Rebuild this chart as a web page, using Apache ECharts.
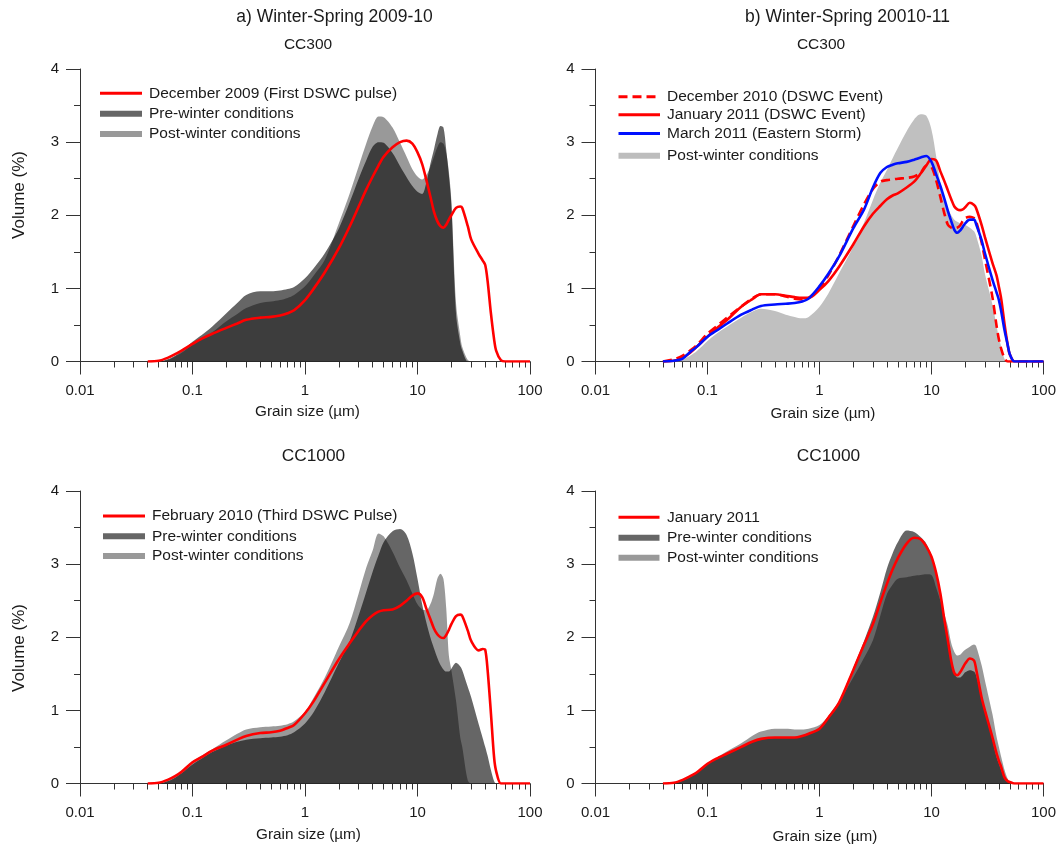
<!DOCTYPE html>
<html>
<head>
<meta charset="utf-8">
<title>Grain size distributions CC300 / CC1000</title>
<script src="https://cdn.jsdelivr.net/npm/echarts@6/dist/echarts.min.js"></script>
<style>
  html, body { margin: 0; padding: 0; background: #fff; }
  #main { width: 1059px; height: 848px; }
</style>
</head>
<body>
<div id="main"></div>
<script>
// grain size classes (um), shared by every curve
const grainSize = [
  0.04, 0.05, 0.06, 0.07, 0.08, 0.1, 0.12, 0.15, 0.2, 0.25,
  0.3, 0.4, 0.5, 0.6, 0.7, 0.8, 1, 1.2, 1.5, 2,
  2.5, 3, 3.5, 4, 4.5, 5, 6, 7, 8, 9,
  10, 11, 12, 13, 14, 15, 16, 17, 18, 19,
  20, 22, 24, 25, 28, 30, 35, 38, 40, 42,
  45, 48, 50, 55, 60, 70, 80, 100
];

// axis ticks
const xTickValues = [0.01, 0.1, 1, 10, 100];
const xTickLabels = ['0.01', '0.1', '1', '10', '100'];
const xMinorTicks = [
  0.02, 0.03, 0.04, 0.05, 0.06, 0.07, 0.08, 0.09,
  0.2, 0.3, 0.4, 0.5, 0.6, 0.7, 0.8, 0.9,
  2, 3, 4, 5, 6, 7, 8, 9,
  20, 30, 40, 50, 60, 70, 80, 90
];

// a) CC300, winter-spring 2009-10 (volume %)
const dec2009 = [
  0, 0.01, 0.05, 0.1, 0.15, 0.24, 0.31, 0.38, 0.46, 0.52,
  0.57, 0.6, 0.61, 0.63, 0.66, 0.7, 0.84, 1.0, 1.22, 1.55,
  1.85, 2.12, 2.35, 2.53, 2.68, 2.8, 2.93, 3.0, 3.02, 2.98,
  2.86, 2.7, 2.48, 2.26, 2.05, 1.92, 1.85, 1.83, 1.87, 1.94,
  2.0, 2.1, 2.12, 2.1, 1.85, 1.67, 1.47, 1.38, 1.32, 1.1,
  0.65, 0.3, 0.15, 0.02, 0, 0, 0, 0
];
const preA = [
  0, 0, 0.03, 0.08, 0.14, 0.27, 0.36, 0.48, 0.66, 0.8,
  0.91, 0.96, 0.96, 0.97, 0.99, 1.02, 1.14, 1.28, 1.48, 1.82,
  2.18, 2.5, 2.75, 2.94, 3.0, 2.99, 2.85, 2.67, 2.52, 2.4,
  2.32, 2.29, 2.45, 2.7, 2.9, 3.1, 3.22, 3.2, 2.9, 2.55,
  2.15, 0.65, 0.25, 0.15, 0, 0, 0, 0, 0, 0,
  0, 0, 0, 0, 0, 0, 0, 0
];
const postA = [
  0, 0, 0.02, 0.07, 0.12, 0.23, 0.31, 0.4, 0.55, 0.65,
  0.73, 0.8, 0.82, 0.84, 0.87, 0.91, 1.03, 1.18, 1.39, 1.89,
  2.3, 2.67, 2.98, 3.22, 3.35, 3.34, 3.2, 2.99, 2.8, 2.63,
  2.53, 2.49, 2.55, 2.66, 2.8, 2.93, 3.0, 2.98, 2.85, 2.6,
  2.2, 0.8, 0.35, 0.2, 0.02, 0, 0, 0, 0, 0,
  0, 0, 0, 0, 0, 0, 0, 0
];

// b) CC300, winter-spring 2010-11
const dec2010 = [
  0, 0.03, 0.08, 0.15, 0.22, 0.38, 0.48, 0.6, 0.75, 0.86,
  0.92, 0.92, 0.89, 0.86, 0.85, 0.87, 1.0, 1.18, 1.45, 1.85,
  2.15, 2.36, 2.46, 2.48, 2.49, 2.5, 2.51, 2.53, 2.58, 2.68,
  2.66, 2.48, 2.25, 2.03, 1.87, 1.83, 1.82, 1.83, 1.86, 1.92,
  1.96, 1.98, 1.96, 1.92, 1.63, 1.4, 0.88, 0.5, 0.3, 0.17,
  0.04, 0, 0, 0, 0, 0, 0, 0
];
const jan2011 = [
  0, 0.01, 0.05, 0.12, 0.2, 0.34, 0.45, 0.57, 0.75, 0.85,
  0.92, 0.92, 0.9, 0.88, 0.87, 0.87, 0.98, 1.1, 1.3, 1.6,
  1.85, 2.02, 2.13, 2.22, 2.27, 2.3, 2.38, 2.46, 2.57, 2.68,
  2.77, 2.75, 2.6, 2.47, 2.34, 2.22, 2.12, 2.08, 2.07, 2.08,
  2.11, 2.17, 2.14, 2.1, 1.87, 1.7, 1.35, 1.18, 1.02, 0.85,
  0.5, 0.22, 0.1, 0, 0, 0, 0, 0
];
const mar2011 = [
  0, 0.01, 0.04, 0.13, 0.2, 0.34, 0.42, 0.52, 0.64, 0.71,
  0.76, 0.78, 0.79, 0.8, 0.82, 0.86, 1.03, 1.2, 1.44, 1.82,
  2.08, 2.38, 2.58, 2.66, 2.69, 2.71, 2.73, 2.76, 2.79, 2.81,
  2.73, 2.56, 2.4, 2.23, 2.06, 1.92, 1.8, 1.76, 1.79, 1.84,
  1.89, 1.94, 1.94, 1.88, 1.66, 1.48, 1.12, 0.95, 0.84, 0.68,
  0.42, 0.22, 0.1, 0, 0, 0, 0, 0
];
const postB = [
  0, 0, 0.03, 0.08, 0.14, 0.28, 0.38, 0.48, 0.6, 0.68,
  0.72, 0.69, 0.64, 0.61, 0.59, 0.61, 0.75, 0.93, 1.21, 1.57,
  1.9, 2.21, 2.45, 2.62, 2.78, 2.92, 3.15, 3.31, 3.38, 3.36,
  3.17, 2.81, 2.44, 2.25, 2.1, 2.0, 1.94, 1.91, 1.89, 1.88,
  1.87, 1.83, 1.78, 1.72, 1.45, 1.2, 0.78, 0.5, 0.32, 0.2,
  0.03, 0, 0, 0, 0, 0, 0, 0
];

// c) CC1000, winter-spring 2009-10
const feb2010 = [
  0, 0.01, 0.05, 0.1, 0.16, 0.29, 0.36, 0.45, 0.53, 0.6,
  0.65, 0.69, 0.7, 0.72, 0.76, 0.8, 0.96, 1.13, 1.38, 1.7,
  1.92, 2.09, 2.22, 2.3, 2.35, 2.37, 2.38, 2.43, 2.5, 2.57,
  2.6, 2.55, 2.39, 2.25, 2.12, 2.04, 2.0, 1.99, 2.03, 2.1,
  2.18, 2.29, 2.31, 2.29, 2.09, 1.95, 1.82, 1.84, 1.83, 1.55,
  0.95, 0.35, 0.17, 0, 0, 0, 0, 0
];
const preC = [
  0, 0, 0.03, 0.08, 0.14, 0.26, 0.34, 0.43, 0.52, 0.57,
  0.6, 0.62, 0.63, 0.64, 0.66, 0.7, 0.82, 0.98, 1.25, 1.65,
  1.95, 2.3, 2.62, 2.9, 3.12, 3.3, 3.45, 3.48, 3.4, 3.15,
  2.8, 2.45, 2.2, 2.0, 1.85, 1.72, 1.62, 1.56, 1.53, 1.53,
  1.57, 1.65, 1.6, 1.55, 1.32, 1.18, 0.81, 0.62, 0.5, 0.38,
  0.18, 0.03, 0, 0, 0, 0, 0, 0
];
const postC = [
  0, 0, 0.04, 0.1, 0.16, 0.3, 0.38, 0.47, 0.59, 0.68,
  0.74, 0.77, 0.78, 0.79, 0.81, 0.85, 0.98, 1.18, 1.45, 1.87,
  2.2, 2.6, 2.95, 3.19, 3.42, 3.38, 3.17, 2.95, 2.78, 2.6,
  2.45, 2.38, 2.37, 2.45, 2.6, 2.8, 2.87, 2.8, 2.4, 1.75,
  1.55, 1.13, 0.63, 0.5, 0.04, 0, 0, 0, 0, 0,
  0, 0, 0, 0, 0, 0, 0, 0
];

// d) CC1000, winter-spring 2010-11
const jan2011Deep = [
  0, 0.01, 0.05, 0.1, 0.15, 0.27, 0.34, 0.41, 0.5, 0.57,
  0.61, 0.63, 0.63, 0.63, 0.65, 0.68, 0.75, 0.9, 1.11, 1.55,
  1.9, 2.18, 2.48, 2.73, 2.93, 3.08, 3.28, 3.36, 3.34, 3.24,
  3.1, 2.88, 2.6, 2.25, 1.96, 1.68, 1.51, 1.48, 1.52, 1.58,
  1.64, 1.71, 1.68, 1.57, 1.18, 1.0, 0.63, 0.42, 0.31, 0.22,
  0.08, 0.03, 0.02, 0, 0, 0, 0, 0
];
const preD = [
  0, 0, 0.04, 0.09, 0.15, 0.27, 0.34, 0.41, 0.5, 0.57,
  0.61, 0.63, 0.63, 0.63, 0.65, 0.68, 0.76, 0.92, 1.13, 1.58,
  1.95, 2.28, 2.62, 2.94, 3.15, 3.3, 3.46, 3.44, 3.37, 3.28,
  3.12, 2.9, 2.62, 2.2, 1.95, 1.65, 1.5, 1.45, 1.45, 1.48,
  1.52, 1.55, 1.53, 1.48, 1.2, 1.0, 0.6, 0.37, 0.27, 0.18,
  0.06, 0.02, 0, 0, 0, 0, 0, 0
];
const postD = [
  0, 0, 0.04, 0.09, 0.15, 0.27, 0.35, 0.44, 0.55, 0.65,
  0.71, 0.75, 0.75, 0.74, 0.74, 0.75, 0.8, 0.92, 1.12, 1.45,
  1.72, 1.96, 2.3, 2.59, 2.72, 2.8, 2.82, 2.84, 2.85, 2.86,
  2.85, 2.68, 2.5, 2.32, 2.15, 1.92, 1.8, 1.75, 1.76, 1.8,
  1.83, 1.87, 1.9, 1.88, 1.62, 1.41, 0.95, 0.65, 0.5, 0.36,
  0.18, 0.06, 0.02, 0, 0, 0, 0, 0
];

const FONT = '"Liberation Sans", Arial, Helvetica, sans-serif';
const AXIS_COLOR = '#333';
const TEXT_COLOR = '#1a1a1a';
const RED = '#ff0000';
const BLUE = '#0010ff';

// one entry per panel : layout + what goes in it
const panels = [
  {
    grid: { left: 80, top: 69, width: 450, height: 292.5 },
    series: [
      { name: 'Post-winter conditions', values: postA, fill: 'rgba(0,0,0,0.4)' },
      { name: 'Pre-winter conditions', values: preA, fill: 'rgba(0,0,0,0.6)' },
      { name: 'December 2009 (First DSWC pulse)', values: dec2009, color: RED }
    ],
    legend: { x0: 100, x1: 142, textX: 149, rows: [93.3, 113.8, 134] },
    legendItems: [
      { label: 'December 2009 (First DSWC pulse)', kind: 'line', color: RED },
      { label: 'Pre-winter conditions', kind: 'bar', color: '#666' },
      { label: 'Post-winter conditions', kind: 'bar', color: '#999' }
    ]
  },
  {
    grid: { left: 595.5, top: 69, width: 449.5, height: 292.5 },
    series: [
      { name: 'Post-winter conditions', values: postB, fill: '#c0c0c0' },
      { name: 'December 2010 (DSWC Event)', values: dec2010, color: RED, dash: [9, 5] },
      { name: 'January 2011 (DSWC Event)', values: jan2011, color: RED },
      { name: 'March 2011 (Eastern Storm)', values: mar2011, color: BLUE }
    ],
    legend: { x0: 618.5, x1: 660, textX: 667, rows: [96.7, 114.8, 133.5, 155.7] },
    legendItems: [
      { label: 'December 2010 (DSWC Event)', kind: 'dash', color: RED },
      { label: 'January 2011 (DSWC Event)', kind: 'line', color: RED },
      { label: 'March 2011 (Eastern Storm)', kind: 'line', color: BLUE },
      { label: 'Post-winter conditions', kind: 'bar', color: '#bdbdbd' }
    ]
  },
  {
    grid: { left: 80, top: 491, width: 450, height: 292.5 },
    series: [
      { name: 'Post-winter conditions', values: postC, fill: 'rgba(0,0,0,0.4)' },
      { name: 'Pre-winter conditions', values: preC, fill: 'rgba(0,0,0,0.6)' },
      { name: 'February 2010 (Third DSWC Pulse)', values: feb2010, color: RED }
    ],
    legend: { x0: 103, x1: 145, textX: 152, rows: [516, 536.3, 556] },
    legendItems: [
      { label: 'February 2010 (Third DSWC Pulse)', kind: 'line', color: RED },
      { label: 'Pre-winter conditions', kind: 'bar', color: '#666' },
      { label: 'Post-winter conditions', kind: 'bar', color: '#999' }
    ]
  },
  {
    grid: { left: 595.5, top: 491, width: 449.5, height: 292.5 },
    series: [
      { name: 'Post-winter conditions', values: postD, fill: 'rgba(0,0,0,0.4)' },
      { name: 'Pre-winter conditions', values: preD, fill: 'rgba(0,0,0,0.6)' },
      { name: 'January 2011', values: jan2011Deep, color: RED }
    ],
    legend: { x0: 618.5, x1: 659.5, textX: 667, rows: [517.3, 537.8, 557.7] },
    legendItems: [
      { label: 'January 2011', kind: 'line', color: RED },
      { label: 'Pre-winter conditions', kind: 'bar', color: '#666' },
      { label: 'Post-winter conditions', kind: 'bar', color: '#999' }
    ]
  }
];

// free texts (titles, station names, axis names)
const texts = [
  { text: 'a) Winter-Spring 2009-10', x: 334.5, y: 17, size: 17.5 },
  { text: 'b) Winter-Spring 20010-11', x: 847.5, y: 17, size: 17.5 },
  { text: 'CC300', x: 308, y: 45, size: 15.5 },
  { text: 'CC300', x: 821, y: 45, size: 15.5 },
  { text: 'CC1000', x: 313.5, y: 456.5, size: 17.3 },
  { text: 'CC1000', x: 828.5, y: 456.5, size: 17.3 },
  { text: 'Grain size (µm)', x: 307.5, y: 412, size: 15.3 },
  { text: 'Grain size (µm)', x: 823, y: 413.5, size: 15.3 },
  { text: 'Grain size (µm)', x: 308.5, y: 835, size: 15.3 },
  { text: 'Grain size (µm)', x: 825, y: 837, size: 15.3 },
  { text: 'Volume (%)', x: 19.5, y: 195, size: 17, rotate: true },
  { text: 'Volume (%)', x: 19.5, y: 648, size: 17, rotate: true }
];

function toPairs(values) {
  return grainSize.map(function (s, i) { return [s, values[i]]; });
}

function buildOption() {
  let grids = [], xAxes = [], yAxes = [], series = [], graphic = [];

  panels.forEach(function (p, gi) {
    grids.push(p.grid);

    // main log axis : line, decade ticks and labels
    xAxes.push({
      type: 'log', logBase: 10, gridIndex: gi, position: 'bottom',
      min: 0.01, max: 100,
      axisLine: { show: true, lineStyle: { color: AXIS_COLOR, width: 1 } },
      axisTick: { show: true, length: 13, customValues: xTickValues,
        lineStyle: { color: AXIS_COLOR, width: 1 } },
      axisLabel: {
        customValues: xTickValues, margin: 22,
        fontSize: 15, fontFamily: FONT, color: TEXT_COLOR,
        formatter: function (v) {
          let k = xTickValues.findIndex(function (t) { return Math.abs(Math.log10(t) - Math.log10(v)) < 1e-6; });
          return k >= 0 ? xTickLabels[k] : '';
        }
      },
      splitLine: { show: false }
    });
    // second log axis only for the 2..9 minor ticks
    xAxes.push({
      type: 'log', logBase: 10, gridIndex: gi, position: 'bottom',
      min: 0.01, max: 100,
      axisLine: { show: false },
      axisTick: { show: true, length: 6, customValues: xMinorTicks,
        lineStyle: { color: AXIS_COLOR, width: 1 } },
      axisLabel: { show: false },
      splitLine: { show: false }
    });

    yAxes.push({
      type: 'value', gridIndex: gi, min: 0, max: 4, interval: 1,
      axisLine: { show: true, lineStyle: { color: AXIS_COLOR, width: 1 } },
      axisTick: { show: true, length: 14, lineStyle: { color: AXIS_COLOR, width: 1 } },
      minorTick: { show: true, splitNumber: 2, length: 6, lineStyle: { color: AXIS_COLOR, width: 1 } },
      axisLabel: { margin: 21, fontSize: 15, fontFamily: FONT, color: TEXT_COLOR },
      splitLine: { show: false }
    });

    p.series.forEach(function (s) {
      let item = {
        name: s.name, type: 'line',
        xAxisIndex: gi * 2, yAxisIndex: gi,
        data: toPairs(s.values),
        smooth: 0.3, showSymbol: false, silent: true,
        animation: false
      };
      if (s.fill) {
        item.lineStyle = { width: 0 };
        item.areaStyle = { color: s.fill, opacity: 1, origin: 'start' };
        item.z = 2;
      } else {
        item.lineStyle = { color: s.color, width: 2.6, type: s.dash ? s.dash : 'solid' };
        item.z = 3;
      }
      series.push(item);
    });

    // legend drawn by hand (line / dashed line / thick bar)
    let L = p.legend;
    p.legendItems.forEach(function (it, r) {
      let y = L.rows[r];
      if (it.kind === 'bar') {
        graphic.push({ type: 'rect', shape: { x: L.x0, y: y - 3, width: L.x1 - L.x0, height: 6 },
          style: { fill: it.color } });
      } else {
        graphic.push({ type: 'line', shape: { x1: L.x0, y1: y, x2: L.x1, y2: y },
          style: { stroke: it.color, lineWidth: 3, lineDash: it.kind === 'dash' ? [9, 5] : null } });
      }
      graphic.push({ type: 'text', x: L.textX, y: y,
        style: { text: it.label, fontSize: 15.5, fontFamily: FONT, fill: TEXT_COLOR,
          align: 'left', verticalAlign: 'middle' } });
    });
  });

  texts.forEach(function (t) {
    graphic.push({
      type: 'text', x: t.x, y: t.y, rotation: t.rotate ? Math.PI / 2 : 0,
      style: { text: t.text, fontSize: t.size, fontFamily: FONT, fill: TEXT_COLOR,
        align: 'center', verticalAlign: 'middle' }
    });
  });

  return {
    backgroundColor: '#fff',
    animation: false,
    textStyle: { fontFamily: FONT },
    grid: grids,
    xAxis: xAxes,
    yAxis: yAxes,
    series: series,
    graphic: graphic
  };
}

let chart = echarts.init(document.getElementById('main'));
chart.setOption(buildOption());
</script>
</body>
</html>
